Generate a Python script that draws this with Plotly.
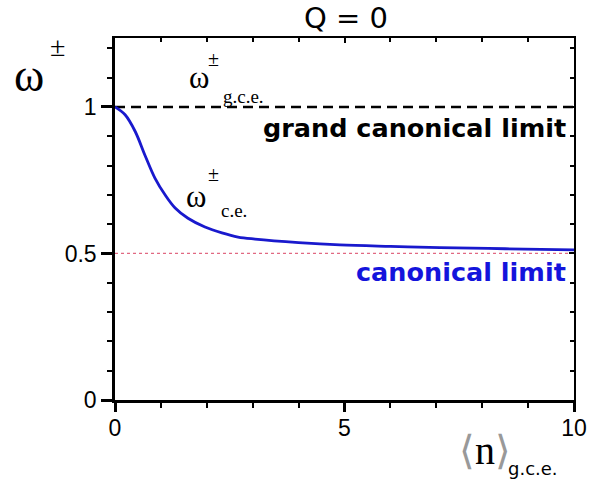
import plotly.graph_objects as go

# curve
n_gce = [0, 0.22, 0.44, 0.65, 0.87, 1.09, 1.31, 1.59, 1.96, 2.33, 2.68, 3.05, 4.0, 4.9, 6.0, 7.08, 8.5, 10]
omega_ce = [1.0, 0.973, 0.916, 0.836, 0.757, 0.70, 0.655, 0.62, 0.59, 0.57, 0.556, 0.549, 0.537, 0.529, 0.524, 0.52, 0.516, 0.512]

gce_limit = 1.0
ce_limit = 0.5
x_ticks = [0, 5, 10]
y_ticks = [0, 0.5, 1]

serif = "Liberation Serif"
sans = "DejaVu Sans"

# plot area in pixels (used to place text outside the axes)
L, R, T, B = 115, 574, 38, 400

fig = go.Figure()

fig.add_trace(go.Scatter(x=[0, 10], y=[ce_limit, ce_limit], mode="lines",
                         line=dict(color="rgb(225,105,130)", width=1.3, dash="dot")))
fig.add_trace(go.Scatter(x=[0, 10], y=[gce_limit, gce_limit], mode="lines",
                         line=dict(color="black", width=2.5, dash="10px,6px")))
fig.add_trace(go.Scatter(x=n_gce, y=omega_ce, mode="lines", line_shape="spline",
                         line=dict(color="rgb(25,25,205)", width=2.8)))

fig.update_layout(
    width=592, height=480,
    margin=dict(l=L, r=592 - R, t=T, b=480 - B),
    plot_bgcolor="white", paper_bgcolor="white",
    showlegend=False,
    font=dict(family="Liberation Sans", size=23, color="black"),
    xaxis=dict(range=[0, 10], tickvals=x_ticks, showgrid=False, zeroline=False, automargin=False,
               showline=True, linecolor="black", linewidth=2.5,
               ticks="outside", ticklen=9, tickwidth=2.5, tickcolor="black",
               minor=dict(dtick=1, ticks="outside", ticklen=5, tickwidth=2, tickcolor="black"),
               ticklabelstandoff=-3),
    yaxis=dict(range=[0, 1.235], tickvals=y_ticks, showgrid=False, zeroline=False, automargin=False,
               showline=True, linecolor="black", linewidth=2.5,
               ticks="outside", ticklen=11, tickwidth=2.5, tickcolor="black",
               minor=dict(dtick=0.1, tick0=0, ticks="outside", ticklen=5, tickwidth=2, tickcolor="black"),
               ticklabelstandoff=0),
    xaxis2=dict(range=[0, 10], overlaying="x", side="top", showgrid=False, zeroline=False, automargin=False,
                showline=True, linecolor="black", linewidth=1.5, showticklabels=False,
                tickvals=x_ticks, ticks="inside", ticklen=5, tickwidth=1.5, tickcolor="black",
                minor=dict(dtick=1, ticks="inside", ticklen=4, tickwidth=1.5, tickcolor="black")),
    yaxis2=dict(range=[0, 1.235], overlaying="y", side="right", showgrid=False, zeroline=False, automargin=False,
                showline=True, linecolor="black", linewidth=1.5, showticklabels=False,
                tickvals=y_ticks, ticks="inside", ticklen=5, tickwidth=1.5, tickcolor="black",
                minor=dict(dtick=0.1, tick0=0, ticks="inside", ticklen=4, tickwidth=1.5, tickcolor="black")),
)
# invisible trace so the mirrored axes get drawn
fig.add_trace(go.Scatter(x=[0], y=[0], xaxis="x2", yaxis="y2", mode="markers",
                         marker=dict(opacity=0), hoverinfo="skip"))


def label(px, py, text, size, family=serif, color="black", xanchor="center", bold=False):
    # px, py are pixel positions in the 592x480 picture
    if bold:
        text = "<b>" + text + "</b>"
    fig.add_annotation(x=(px - L) / (R - L), y=(B - py) / (B - T), xref="paper", yref="paper",
                       text=text, showarrow=False, xanchor=xanchor, yanchor="middle",
                       font=dict(family=family, size=size, color=color))


# title
label(346, 18, "Q = 0", 29, family=sans)
# y axis label
label(29, 75, "ω", 46)
label(57, 46, "±", 28)
# omega g.c.e.
label(199, 77, "ω", 31)
label(213, 59, "±", 20)
label(243, 96, "g.c.e.", 19)
# omega c.e.
label(196, 196, "ω", 31)
label(213, 174, "±", 20)
label(234, 210, "c.e.", 19)
# limits
label(568, 128, "grand canonical limit", 25.5, family=sans, xanchor="right", bold=True)
label(568, 272, "canonical limit", 25.5, family=sans, color="rgb(20,20,220)", xanchor="right", bold=True)
# x axis label
label(485, 450, "<span style='color:#999'>⟨</span>n<span style='color:#999'>⟩</span>", 40)
label(533, 468, "g.c.e.", 18, family=sans)

fig.write_html("out.html", config={"displayModeBar": False},
               post_script="document.body.style.margin='0px';")
